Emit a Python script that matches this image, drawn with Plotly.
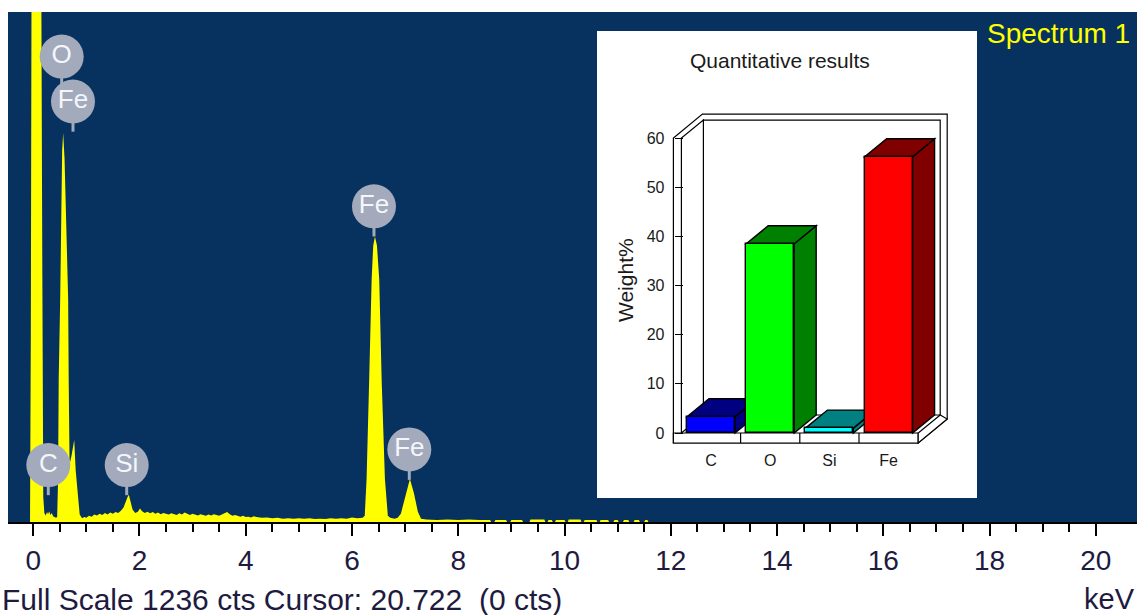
import plotly.graph_objects as go

# ---------------- data ----------------
FULL_SCALE = 1236          # cts at top of the spectrum window
CURSOR_KEV = "20.722"
CURSOR_CTS = 0

energy_kev = [-0.06, -0.045, -0.03, 0.15, 0.172, 0.19, 0.21,
              0.235, 0.26, 0.28, 0.30, 0.325, 0.35, 0.375, 0.40, 0.43,
              0.451, 0.468, 0.48, 0.508, 0.545, 0.564, 0.59, 0.658, 0.668,
              0.685, 0.72, 0.772, 0.80, 0.84, 0.875, 0.92,
              0.96, 1.00, 1.05, 1.10, 1.15, 1.20, 1.25, 1.30, 1.35, 1.40, 1.45, 1.50, 1.55, 1.60, 1.65,
              1.70, 1.74, 1.78, 1.80, 1.83, 1.87, 1.92,
              1.97, 2.01, 2.05, 2.10, 2.15, 2.20, 2.25, 2.30, 2.35, 2.40, 2.45, 2.50, 2.55, 2.60, 2.65,
              2.70, 2.75, 2.80, 2.85, 2.90, 2.95, 3.00, 3.05, 3.10, 3.15, 3.20, 3.25, 3.30, 3.35, 3.40,
              3.45, 3.50, 3.55, 3.60, 3.65, 3.70, 3.75, 3.80, 3.85, 3.90, 3.95, 4.00, 4.05, 4.10, 4.15, 4.20,
              4.30, 4.40, 4.50, 4.60, 4.70, 4.80, 4.90, 5.00, 5.10, 5.20, 5.30, 5.40, 5.50, 5.60, 5.70,
              5.80, 5.90, 6.00, 6.10, 6.20,
              6.24, 6.275, 6.324, 6.37, 6.40, 6.432, 6.47, 6.513, 6.558, 6.62, 6.675, 6.72, 6.80, 6.86,
              6.92, 7.00, 7.09, 7.165, 7.24, 7.30,
              7.40, 7.60, 7.80, 8.00, 8.20, 8.40, 8.60, 8.62, 8.68, 8.70, 8.90, 8.92, 8.98, 9.00, 9.20,
              9.22, 9.34, 9.36, 9.62, 9.64, 9.68, 9.70, 9.76, 9.78, 9.82, 9.84, 10.00, 10.02, 10.06,
              10.08, 10.30, 10.32, 10.36, 10.38, 10.60, 10.62, 10.66, 10.68, 10.82, 10.84, 10.92, 10.94,
              11.00, 11.02, 11.10, 11.12, 11.20, 11.22, 11.30, 11.32, 11.40, 11.42, 11.50, 11.52, 11.56, 11.58]

counts = [0, 450, 1400, 1400, 600, 60, 22,
          16, 24, 19, 26, 17, 22, 14, 12, 10,
          12, 100, 345, 540, 900, 943, 880, 540, 345,
          140, 160, 199, 125, 55, 18, 9,
          12, 10, 15, 13, 18, 16, 20, 17, 22, 18, 23, 20, 24, 22, 27,
          35, 50, 62, 66, 52, 30, 22,
          25, 33, 26, 22, 25, 21, 24, 20, 23, 19, 22, 20, 18, 21, 19,
          17, 21, 18, 23, 19, 17, 20, 18, 16, 19, 17, 15, 18, 16, 19,
          17, 15, 18, 21, 24, 19, 15, 17, 14, 13, 15, 12, 13, 11, 14, 12,
          10, 11, 9, 10, 8, 9, 8, 9, 8, 9, 7, 8, 7, 9, 8,
          9, 8, 11, 9, 10,
          15, 104, 346, 588, 670, 692, 670, 588, 346, 104, 15, 10, 8, 10,
          20, 60, 104, 70, 25, 8,
          6, 5, 6, 5, 6, 5, 5, 0, 0, 5, 5, 0, 0, 5, 5,
          0, 0, 6, 6, 0, 0, 5, 5, 0, 0, 5, 5, 0, 0,
          6, 6, 0, 0, 5, 5, 0, 0, 5, 5, 0, 0, 5,
          5, 0, 0, 5, 5, 0, 0, 5, 5, 0, 0, 5, 5, 0]

label_text = ["O", "Fe", "Fe", "C", "Si", "Fe"]
label_kev = [0.536, 0.749, 6.414, 0.284, 1.760, 7.079]
label_cts = [1128, 1019, 765, 138, 138, 176]
stem_end_cts = [1060, 946, 692, 65, 65, 102]

x_ticks_major = [0, 2, 4, 6, 8, 10, 12, 14, 16, 18, 20]
x_ticks_minor = [0.5, 1, 1.5, 2.5, 3, 3.5, 4.5, 5, 5.5, 6.5, 7, 7.5, 8.5, 9, 9.5,
                 10.5, 11, 11.5, 12.5, 13, 13.5, 14.5, 15, 15.5, 16.5, 17, 17.5,
                 18.5, 19, 19.5]

quant_elements = ["C", "O", "Si", "Fe"]
quant_weight = [3.3, 38.5, 1.0, 56.2]
weight_ticks = [0, 10, 20, 30, 40, 50, 60]
front_colors = ["#0000ff", "#00ff00", "#00ffff", "#ff0000"]
shade_colors = ["#000080", "#008000", "#008080", "#800000"]

# ---------------- geometry / style ----------------
W, H = 1137, 615
L, R, T, B = 8, 0, 12, 93
PW, PH = W - L - R, H - T - B
FONT = "Liberation Sans, Arial, sans-serif"
BLUE = "#07325f"
YELLOW = "#ffff00"
LABEL_GREY = "#a2aabb"
TEXT_DARK = "#1e1a40"

KEV0_PX, PX_PER_KEV = 33.2, 53.13
X_RANGE = [(L - KEV0_PX) / PX_PER_KEV, (W - R - KEV0_PX) / PX_PER_KEV]


def paper_x(px):
    return (px - L) / PW


def paper_y(py):
    return (H - B - py) / PH


# inset (quantitative results) frame
BOX = (597, 977, 31, 498)              # left, right, top, bottom in px
CAT0_PX, PX_PER_CAT = 711, 59.2
ZERO_PY, PX_PER_PCT = 433, 4.915
INSET_X = [(BOX[0] - CAT0_PX) / PX_PER_CAT, (BOX[1] - CAT0_PX) / PX_PER_CAT]
INSET_Y = [(ZERO_PY - BOX[3]) / PX_PER_PCT, (ZERO_PY - BOX[2]) / PX_PER_PCT]
BAR_W = 0.81
DIN = (22 / PX_PER_CAT, 18 / PX_PER_PCT)     # depth to back wall inner face
DWALL = (29 / PX_PER_CAT, 24 / PX_PER_PCT)   # full depth
WALL_T = 8 / PX_PER_CAT
FLOOR_T = 10 / PX_PER_PCT
TOPV = weight_ticks[-1]
n = len(quant_elements)
XL, XH = -0.5, n - 0.5
WL = XL - WALL_T


def path(pts, close=True):
    s = "M " + " L ".join(f"{x:.4f},{y:.4f}" for x, y in pts)
    return s + (" Z" if close else "")


def add(p, q):
    return (p[0] + q[0], p[1] + q[1])


shapes = []
# dark spectrum window background
shapes.append(dict(type="rect", xref="paper", yref="paper", x0=0, x1=1, y0=0, y1=1,
                   fillcolor=BLUE, line=dict(width=0), layer="below"))

frame_line = dict(color="black", width=1.2)
# outer hull of the 3D box
hull = [(WL, -FLOOR_T), (WL, TOPV), add((WL, TOPV), DWALL), add((XH, TOPV), DWALL),
        add((XH, -FLOOR_T), DWALL), (XH, -FLOOR_T)]
shapes.append(dict(type="path", xref="x2", yref="y2", path=path(hull),
                   fillcolor="white", line=frame_line, layer="below"))
# back wall inner face
inner = [add((XL, 0), DIN), add((XL, TOPV), DIN), add((XH, TOPV), DIN), add((XH, 0), DIN)]
shapes.append(dict(type="path", xref="x2", yref="y2", path=path(inner),
                   fillcolor="white", line=frame_line, layer="below"))
# left wall inner face
lw = [(XL, 0), (XL, TOPV), add((XL, TOPV), DIN), add((XL, 0), DIN)]
shapes.append(dict(type="path", xref="x2", yref="y2", path=path(lw),
                   fillcolor="white", line=frame_line, layer="below"))
# floor front slab
slab = [(WL, -FLOOR_T), (WL, 0), (XH, 0), (XH, -FLOOR_T)]
shapes.append(dict(type="path", xref="x2", yref="y2", path=path(slab),
                   fillcolor="white", line=frame_line, layer="below"))
# floor right face
fr = [(XH, -FLOOR_T), (XH, 0), add((XH, 0), DIN), add((XH, -FLOOR_T), DWALL)]
shapes.append(dict(type="path", xref="x2", yref="y2", path=path(fr),
                   fillcolor="white", line=frame_line, layer="below"))
# floor separators between categories
for k in range(n - 1):
    shapes.append(dict(type="line", xref="x2", yref="y2", x0=k + 0.5, x1=k + 0.5,
                       y0=-FLOOR_T, y1=0, line=frame_line, layer="below"))

# 3D faces of the bars (side + top), drawn from the values
for k, (v, dark) in enumerate(zip(quant_weight, shade_colors)):
    l, r = k - BAR_W / 2, k + BAR_W / 2
    side = [(r, 0), (r, v), add((r, v), DIN), add((r, 0), DIN)]
    top = [(l, v), (r, v), add((r, v), DIN), add((l, v), DIN)]
    for poly in (side, top):
        shapes.append(dict(type="path", xref="x2", yref="y2", path=path(poly),
                           fillcolor=dark, line=dict(color="black", width=1.4), layer="below"))

# ---------------- figure ----------------
fig = go.Figure()

fig.add_trace(go.Scatter(x=energy_kev, y=counts, mode="lines",
                         line=dict(color=YELLOW, width=0), fill="tozeroy",
                         fillcolor=YELLOW, hoverinfo="skip", showlegend=False))

sx, sy = [], []
for e, c0, c1 in zip(label_kev, label_cts, stem_end_cts):
    sx += [e, e, None]
    sy += [c0, c1, None]
fig.add_trace(go.Scatter(x=sx, y=sy, mode="lines", line=dict(color=LABEL_GREY, width=3),
                         hoverinfo="skip", showlegend=False))

fig.add_trace(go.Scatter(x=label_kev, y=label_cts, mode="markers+text", text=label_text,
                         textposition="middle center",
                         marker=dict(size=44, color=LABEL_GREY, line=dict(width=0)),
                         textfont=dict(size=26, color="#f4f6fb", family=FONT),
                         cliponaxis=False, hoverinfo="skip", showlegend=False))

fig.add_trace(go.Bar(x=list(range(n)), y=quant_weight, width=BAR_W,
                     marker=dict(color=front_colors, line=dict(color="black", width=1.4)),
                     xaxis="x2", yaxis="y2", hoverinfo="skip", showlegend=False))

annotations = [
    dict(text=f"Full Scale {FULL_SCALE} cts Cursor: {CURSOR_KEV}\u00a0 ({CURSOR_CTS} cts)",
         xref="paper", yref="paper", x=paper_x(0), y=paper_y(599), xanchor="left",
         yanchor="middle", showarrow=False, font=dict(size=30, color=TEXT_DARK, family=FONT)),
    dict(text="keV", xref="paper", yref="paper", x=paper_x(1137), y=paper_y(599),
         xanchor="right", yanchor="middle", showarrow=False,
         font=dict(size=29, color=TEXT_DARK, family=FONT)),
    dict(text="Spectrum 1", xref="paper", yref="paper", x=paper_x(985), y=paper_y(34),
         xanchor="left", yanchor="middle", showarrow=False,
         font=dict(size=28, color=YELLOW, family=FONT)),
    dict(text="Quantitative results", xref="paper", yref="paper", x=paper_x(779.5),
         y=paper_y(61), xanchor="center", yanchor="middle", showarrow=False,
         font=dict(size=21, color="#1a1a1a", family=FONT)),
    dict(text="Weight%", xref="paper", yref="paper", x=paper_x(625), y=paper_y(280),
         xanchor="center", yanchor="middle", textangle=-90, showarrow=False,
         font=dict(size=21, color="#1a1a1a", family=FONT)),
]

fig.update_layout(
    width=W, height=H,
    margin=dict(l=L, r=R, t=T, b=B, pad=0, autoexpand=False),
    paper_bgcolor="white", plot_bgcolor="white",
    showlegend=False, bargap=0,
    shapes=shapes, annotations=annotations,
    xaxis=dict(domain=[0, 1], range=X_RANGE, showgrid=False, zeroline=False,
               showline=True, linecolor="black", linewidth=2,
               ticks="outside", ticklen=12, tickwidth=2, tickcolor="black",
               tickmode="array", tickvals=x_ticks_major,
               ticktext=[str(v) for v in x_ticks_major],
               tickfont=dict(size=28, color=TEXT_DARK, family=FONT),
               ticklabelstandoff=0,
               minor=dict(tickmode="array", tickvals=x_ticks_minor, ticks="outside",
                          ticklen=8, tickwidth=2, tickcolor="black", showgrid=False),
               fixedrange=True),
    yaxis=dict(domain=[0, 1], range=[0, FULL_SCALE], visible=False, fixedrange=True),
    xaxis2=dict(domain=[paper_x(BOX[0]), paper_x(BOX[1])], range=INSET_X,
                anchor="free", position=paper_y(449),
                showgrid=False, zeroline=False, showline=False, ticks="",
                tickmode="array", tickvals=list(range(n)), ticktext=quant_elements,
                tickfont=dict(size=16, color="#1a1a1a", family=FONT), fixedrange=True),
    yaxis2=dict(domain=[paper_y(BOX[3]), paper_y(BOX[2])], range=INSET_Y,
                anchor="free", position=paper_x(673.5),
                showgrid=False, zeroline=False, showline=False,
                ticks="inside", ticklen=8, tickwidth=1, tickcolor="black",
                tickmode="array", tickvals=weight_ticks,
                tickfont=dict(size=16, color="#1a1a1a", family=FONT),
                ticklabelstandoff=9, fixedrange=True),
)

fig.write_html("out.html", config={"displayModeBar": False},
               post_script="document.body.style.margin='0';document.body.style.overflow='hidden';")
